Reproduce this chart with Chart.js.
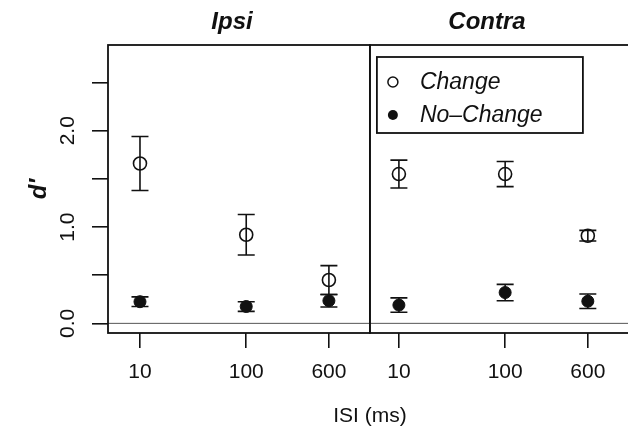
<!DOCTYPE html>
<html>
<head>
<meta charset="utf-8">
<script src="https://cdn.jsdelivr.net/npm/chart.js@4.4.1/dist/chart.umd.min.js"></script>
<style>
  html, body { margin: 0; padding: 0; background: #fff; overflow: hidden; }
</style>
</head>
<body>
<canvas id="chart" width="640" height="430"></canvas>
<script>
// ISI values (ms), same for both panels
const isi = [10, 100, 600];
const panelNames = ["Ipsi", "Contra"];

// d' means and error bar half-widths
const ipsiChange = [1.66, 0.92, 0.45];
const ipsiChangeErr = [0.28, 0.21, 0.15];
const ipsiNoChange = [0.225, 0.175, 0.235];
const ipsiNoChangeErr = [0.05, 0.05, 0.065];

const contraChange = [1.55, 1.55, 0.91];
const contraChangeErr = [0.145, 0.13, 0.055];
const contraNoChange = [0.19, 0.32, 0.23];
const contraNoChangeErr = [0.075, 0.085, 0.075];

const yTicks = [0, 0.5, 1, 1.5, 2, 2.5];
const yTickLabels = ["0.0", "", "1.0", "", "2.0", ""];

// x is log10(ISI); the Contra panel is shifted to the right
const xMin = Math.log10(5);
const xMax = 5.63;
const contraShift = 2.437;
const panelSplit = 3.164;

const FONT = "'Liberation Sans', Arial, Helvetica, sans-serif";

function toPoints(vals, shift) {
  return isi.map((v, i) => ({ x: Math.log10(v) + shift, y: vals[i] }));
}

const xTickPos = isi.map(v => Math.log10(v)).concat(isi.map(v => Math.log10(v) + contraShift));
const xTickLabels = isi.map(String).concat(isi.map(String));

const changeData = toPoints(ipsiChange, 0).concat(toPoints(contraChange, contraShift));
const changeErr = ipsiChangeErr.concat(contraChangeErr);
const noChangeData = toPoints(ipsiNoChange, 0).concat(toPoints(contraNoChange, contraShift));
const noChangeErr = ipsiNoChangeErr.concat(contraNoChangeErr);

// error bars, drawn from the scales
const errorBars = {
  id: "errorBars",
  beforeDatasetsDraw(chart) {
    const ctx = chart.ctx;
    const xs = chart.scales.x, ys = chart.scales.y;
    ctx.save();
    ctx.strokeStyle = "#111";
    ctx.lineWidth = 1.6;
    chart.data.datasets.forEach(ds => {
      ds.data.forEach((p, i) => {
        const px = xs.getPixelForValue(p.x);
        const top = ys.getPixelForValue(p.y + ds.errors[i]);
        const bot = ys.getPixelForValue(p.y - ds.errors[i]);
        ctx.beginPath();
        ctx.moveTo(px, top); ctx.lineTo(px, bot);
        ctx.moveTo(px - 8.5, top); ctx.lineTo(px + 8.5, top);
        ctx.moveTo(px - 8.5, bot); ctx.lineTo(px + 8.5, bot);
        ctx.stroke();
      });
    });
    ctx.restore();
  }
};

// frame, zero line, rotated y labels, panel titles and legend
const decorations = {
  id: "decorations",
  afterDraw(chart) {
    const ctx = chart.ctx;
    const a = chart.chartArea;
    const xs = chart.scales.x, ys = chart.scales.y;
    const split = xs.getPixelForValue(panelSplit);
    ctx.save();

    // zero line
    const y0 = ys.getPixelForValue(0);
    ctx.strokeStyle = "#555";
    ctx.lineWidth = 1;
    ctx.beginPath();
    ctx.moveTo(a.left, y0); ctx.lineTo(a.right, y0);
    ctx.stroke();

    // panel boxes
    ctx.strokeStyle = "#111";
    ctx.lineWidth = 1.8;
    ctx.strokeRect(a.left, a.top, split - a.left, a.bottom - a.top);
    ctx.strokeRect(split, a.top, a.right - split, a.bottom - a.top);

    // y tick labels (rotated like R)
    ctx.fillStyle = "#111";
    ctx.font = "21px " + FONT;
    ctx.textAlign = "center";
    ctx.textBaseline = "alphabetic";
    yTicks.forEach((v, i) => {
      if (!yTickLabels[i]) return;
      ctx.save();
      ctx.translate(74, ys.getPixelForValue(v));
      ctx.rotate(-Math.PI / 2);
      ctx.fillText(yTickLabels[i], 0, 0);
      ctx.restore();
    });

    // y title
    ctx.save();
    ctx.font = "bold italic 24px " + FONT;
    ctx.translate(46, (a.top + a.bottom) / 2);
    ctx.rotate(-Math.PI / 2);
    ctx.fillText("d\u2032", 0, 0);
    ctx.restore();

    // panel titles
    ctx.font = "bold italic 24px " + FONT;
    ctx.fillText(panelNames[0], 232, 29);
    ctx.fillText(panelNames[1], 487, 29);

    // legend
    const lx = split + 7, ly = a.top + 12;
    ctx.lineWidth = 1.8;
    ctx.strokeRect(lx, ly, 206, 76);
    ctx.font = "italic 23px " + FONT;
    ctx.textAlign = "left";
    ctx.textBaseline = "middle";
    chart.data.datasets.forEach((ds, i) => {
      const cy = ly + 25 + i * 33;
      ctx.beginPath();
      ctx.arc(lx + 16, cy, 5, 0, Math.PI * 2);
      if (i === 0) { ctx.lineWidth = 1.5; ctx.stroke(); }
      else { ctx.fill(); }
      ctx.fillText(ds.label, lx + 43, cy + 1);
    });

    ctx.restore();
  }
};

new Chart(document.getElementById("chart"), {
  type: "scatter",
  data: {
    datasets: [
      {
        label: "Change",
        data: changeData,
        errors: changeErr,
        pointRadius: 6.5,
        pointBorderWidth: 1.6,
        pointBorderColor: "#111",
        pointBackgroundColor: "rgba(0,0,0,0)"
      },
      {
        label: "No\u2013Change",
        data: noChangeData,
        errors: noChangeErr,
        pointRadius: 6,
        pointBorderWidth: 1,
        pointBorderColor: "#111",
        pointBackgroundColor: "#111"
      }
    ]
  },
  options: {
    responsive: false,
    animation: false,
    layout: { padding: { left: 0, top: 45, right: 8, bottom: 0 } },
    plugins: { legend: { display: false }, tooltip: { enabled: false } },
    scales: {
      x: {
        type: "linear",
        min: xMin,
        max: xMax,
        afterBuildTicks: s => { s.ticks = xTickPos.map(v => ({ value: v })); },
        afterFit: s => { s.height = 97; },
        ticks: {
          autoSkip: false,
          maxRotation: 0,
          padding: 12,
          color: "#111",
          font: { family: FONT, size: 21 },
          callback: (v, i) => xTickLabels[i]
        },
        grid: { drawOnChartArea: false, drawTicks: true, tickLength: 15, color: "#111", lineWidth: 1.6 },
        border: { display: false },
        title: {
          display: true,
          text: "ISI (ms)",
          color: "#111",
          font: { family: FONT, size: 21 },
          padding: { top: 0, bottom: 1 }
        }
      },
      y: {
        type: "linear",
        min: -0.1,
        max: 2.89,
        afterBuildTicks: s => { s.ticks = yTicks.map(v => ({ value: v })); },
        afterFit: s => { s.width = 108; },
        ticks: { display: false },
        grid: { drawOnChartArea: false, drawTicks: true, tickLength: 16, color: "#111", lineWidth: 1.6 },
        border: { display: false }
      }
    }
  },
  plugins: [errorBars, decorations]
});
</script>
</body>
</html>
